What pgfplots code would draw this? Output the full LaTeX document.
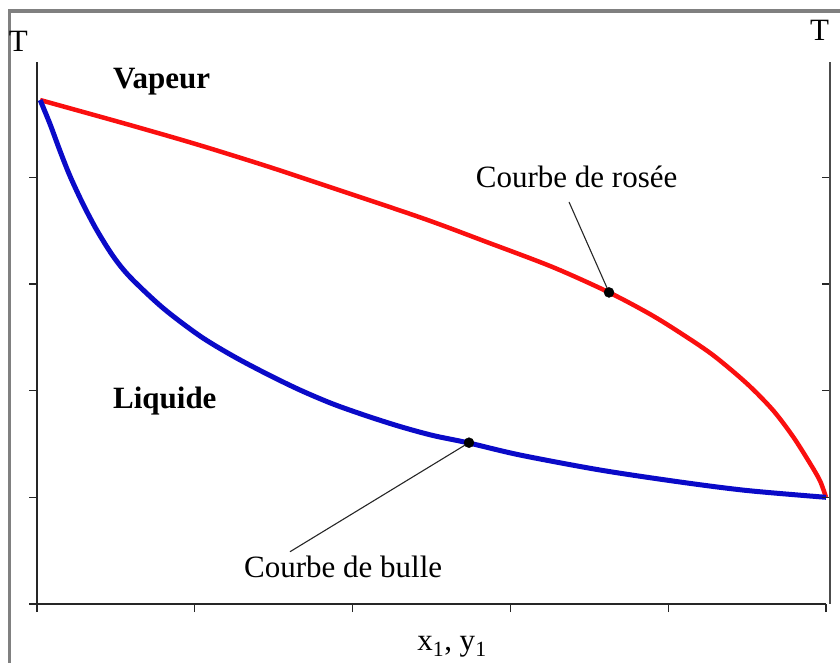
\documentclass[border=0pt]{standalone}
\usepackage{fontspec}
\setmainfont{Liberation Serif}
\usepackage{pgfplots}
\pgfplotsset{compat=1.18}
\definecolor{dewred}{RGB}{250,15,15}
\definecolor{bubblue}{RGB}{10,10,200}
\definecolor{framegray}{RGB}{128,128,128}
\begin{document}
\fontsize{31bp}{36bp}\selectfont
\begin{tikzpicture}
\useasboundingbox (0,0) rectangle (840bp,663bp);
\draw[framegray, line width=3.5bp] (9.5bp,0) -- (9.5bp,652bp) -- (840bp,652bp);
\begin{axis}[
  at={(37bp,59bp)}, anchor=south west,
  scale only axis, width=789bp, height=542bp,
  xmin=0, xmax=1, ymin=0, ymax=5.08,
  axis lines*=left,
  axis line style={line width=1.5bp, black!85},
  tick style={line width=1.2bp, black!85},
  major tick length=8bp,
  tick align=outside,
  xtick={0,0.2,0.4,0.6,0.8,1}, ytick={0,1,2,3,4},
  xticklabels={}, yticklabels={},
  clip=false,
]
% Courbe de rosee
\addplot[dewred, line width=4.5bp, smooth, tension=0.5] coordinates {
(0.004,4.7235) (0.1179,4.489) (0.2028,4.3074) (0.2864,4.1153) (0.3460,3.970)
(0.4854,3.6242) (0.5703,3.3917) (0.6540,3.1565) (0.7250,2.9203) (0.7769,2.717)
(0.8150,2.5426) (0.8568,2.3327) (0.8999,2.0647) (0.9328,1.8163) (0.9582,1.5689)
(0.9797,1.3186) (0.9924,1.1546) (1.0,1.0)
};
% Courbe de bulle
\addplot[bubblue, line width=5bp, smooth, tension=0.5] coordinates {
(0.004,4.7235) (0.0165,4.4986) (0.0292,4.2456) (0.0418,4.0112) (0.0583,3.7488)
(0.0757,3.5052) (0.0963,3.2615) (0.1179,3.0647) (0.1597,2.7741) (0.2066,2.5117)
(0.2484,2.3243) (0.2915,2.1556) (0.3333,2.0056) (0.3752,1.8744) (0.4183,1.7620)
(0.4601,1.6635) (0.5019,1.5792) (0.5475,1.5089) (0.6122,1.3964) (0.7136,1.2559)
(0.8150,1.1434) (0.8999,1.0637) (1.0,1.0)
};
% pointers
\addplot[black!85, line width=1.1bp] coordinates {(0.7250,2.9203) (0.6743,3.768)};
\addplot[black!85, line width=1.1bp] coordinates {(0.5475,1.512) (0.3207,0.490)};
\addplot[only marks, mark=*, mark size=5bp, black] coordinates {(0.7250,2.9203) (0.5475,1.512)};
% labels
\node[anchor=base, font=\bfseries] at (axis cs:0.158,4.836) {Vapeur};
\node[anchor=base, font=\bfseries] at (axis cs:0.162,1.837) {Liquide};
\node[anchor=base] at (axis cs:0.684,3.905) {Courbe de rosée};
\node[anchor=base] at (axis cs:0.388,0.244) {Courbe de bulle};
\node[anchor=base] at (axis cs:-0.0237,5.176) {T};
\node[anchor=base] at (axis cs:0.992,5.279) {T};
\node[anchor=base] at (axis cs:0.526,-0.44) {x\textsubscript{1}, y\textsubscript{1}};
\end{axis}
\begin{axis}[
  at={(37bp,59bp)}, anchor=south west,
  scale only axis, width=793bp, height=542bp,
  xmin=0, xmax=1, ymin=0, ymax=5.08,
  axis y line*=right, axis x line=none,
  axis line style={line width=1.2bp, black!70},
  tick style={line width=1.2bp, black!85},
  major tick length=8bp,
  tick align=inside,
  ytick={1,2,3,4}, yticklabels={},
]
\end{axis}
\end{tikzpicture}
\end{document}
